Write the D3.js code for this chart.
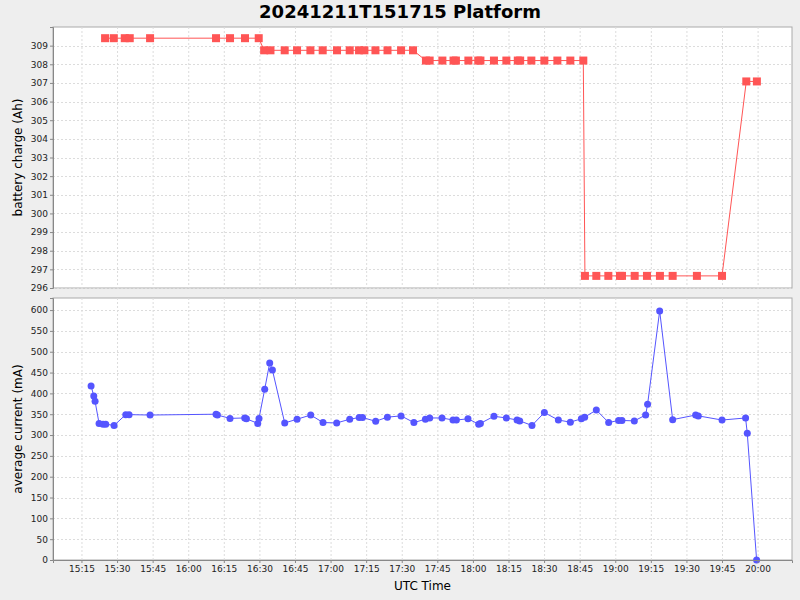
<!DOCTYPE html>
<html>
<head>
<meta charset="utf-8">
<script src="https://cdn.jsdelivr.net/npm/d3@7"></script>
<style>
  body { margin: 0; background: #eeeeee; }
  text { font-family: "DejaVu Sans", sans-serif; fill: #000; }
  .tick text { font-size: 9px; fill: #222; }
  .tick line { stroke: #888; }
  .domain { stroke: #888; }
</style>
</head>
<body>
<div id="chart"></div>
<script>
// battery charge samples (top panel)
var chargeTimes = ["15:24:57","15:28:37","15:33:15","15:35:21","15:43:55","16:11:43","16:17:37","16:23:56","16:29:43",
  "16:32:00","16:34:40","16:40:40","16:45:52","16:51:30","16:56:41","17:02:43","17:08:04","17:12:00","17:14:16",
  "17:18:55","17:24:00","17:29:43","17:34:45",
  "17:40:12","17:41:46","17:47:08","17:51:50","17:52:50","17:58:05","18:02:15","18:03:10","18:08:52","18:14:06",
  "18:18:55","18:19:55","18:24:38","18:30:07","18:35:36","18:41:04","18:46:32",
  "18:47:13","18:52:01","18:57:05","19:02:00","19:02:50","19:08:11","19:13:22","19:18:50","19:24:12","19:34:25","19:45:00",
  "19:55:14","19:59:42"];
var chargeValues = [309.4,309.4,309.4,309.4,309.4,309.4,309.4,309.4,309.4,
  308.75,308.75,308.75,308.75,308.75,308.75,308.75,308.75,308.75,308.75,
  308.75,308.75,308.75,308.75,
  308.2,308.2,308.2,308.2,308.2,308.2,308.2,308.2,308.2,308.2,
  308.2,308.2,308.2,308.2,308.2,308.2,308.2,
  296.65,296.65,296.65,296.65,296.65,296.65,296.65,296.65,296.65,296.65,296.65,
  307.08,307.08];

// average current samples (bottom panel)
var currentTimes = ["15:19:03","15:20:11","15:20:44","15:22:25","15:24:06","15:25:14","15:28:44","15:33:40","15:35:04",
  "15:43:55","16:11:43","16:12:18","16:17:37","16:23:49","16:24:32","16:29:18","16:29:50","16:32:14","16:34:21",
  "16:35:29","16:40:40","16:45:52","16:51:38","16:56:49","17:02:35","17:08:04","17:12:04","17:13:28","17:19:01",
  "17:23:57","17:29:43","17:35:07","17:39:58","17:41:47","17:46:58","17:51:36","17:53:02","17:57:55","18:02:26",
  "18:03:09","18:08:52","18:14:06","18:18:36","18:19:44","18:24:54","18:30:07","18:36:01","18:41:04","18:45:43",
  "18:47:06","18:52:01","18:57:13","19:01:25","19:02:49","19:08:02","19:12:48","19:13:38","19:18:43","19:24:12",
  "19:33:53","19:35:00","19:45:00","19:54:56","19:55:39","19:59:35"];
var currentValues = [418,394,381,328,326,326,323,349,349,
  348,350,348,340,341,339,328,340,410,473,
  456,329,338,348,330,329,338,342,342,333,
  343,346,330,338,341,341,336,336,339,326,
  328,345,341,336,334,323,354,336,331,339,
  343,360,330,335,335,334,348,374,598,337,
  348,346,336,341,304,0];

var timeDomain = ["15:03:00","20:14:30"];
var chargeTicks = [296,297,298,299,300,301,302,303,304,305,306,307,308,309];
var currentTicks = [0,50,100,150,200,250,300,350,400,450,500,550,600];

var svgWidth = 800;
var svgHeight = 600;
var margin = {left: 53, right: 8};
var width = svgWidth - margin.left - margin.right;
var top1 = 27, h1 = 261;
var top2 = 298, h2 = 262;

var parseTime = d3.utcParse("%H:%M:%S");

var svg = d3.select("#chart")
  .append("svg")
  .attr("width", svgWidth)
  .attr("height", svgHeight);

svg.append("rect").attr("width", svgWidth).attr("height", svgHeight).attr("fill", "#eeeeee");

// title
svg.append("text")
  .attr("x", 400)
  .attr("y", 18)
  .attr("text-anchor", "middle")
  .style("font-size", "18px")
  .style("font-weight", "bold")
  .text("20241211T151715 Platform");

var xScale = d3.scaleUtc()
  .domain(timeDomain.map(parseTime))
  .range([0, width]);
var xTicks = xScale.ticks(d3.utcMinute.every(15));

function drawPanel(top, h, yScale, yTicks, times, values, color, marker, label) {
  var g = svg.append("g").attr("transform", `translate(${margin.left}, ${top})`);
  g.append("rect")
    .attr("width", width)
    .attr("height", h)
    .attr("fill", "#fff")
    .attr("stroke", "#aaa");

  // grid
  g.selectAll(".vgrid").data(xTicks).enter().append("line")
    .attr("x1", d => xScale(d) + 0.5).attr("x2", d => xScale(d) + 0.5)
    .attr("y1", 0).attr("y2", h)
    .attr("stroke", "#dcdcdc").attr("stroke-dasharray", "2,2");
  g.selectAll(".hgrid").data(yTicks).enter().append("line")
    .attr("x1", 0).attr("x2", width)
    .attr("y1", d => Math.round(yScale(d)) + 0.5).attr("y2", d => Math.round(yScale(d)) + 0.5)
    .attr("stroke", "#dcdcdc").attr("stroke-dasharray", "2,2");

  var leftAxis = d3.axisLeft(yScale).tickValues(yTicks).tickSize(3).tickPadding(2);
  g.append("g").call(leftAxis);

  var pts = times.map(function(t, i) { return {t: parseTime(t), v: values[i]}; });
  var line = d3.line().x(d => xScale(d.t)).y(d => yScale(d.v));
  g.append("path")
    .datum(pts)
    .attr("d", line)
    .attr("fill", "none")
    .attr("stroke", color)
    .attr("stroke-width", 1);

  if (marker == "square") {
    g.selectAll(".pt").data(pts).enter().append("rect")
      .attr("x", d => xScale(d.t) - 4)
      .attr("y", d => yScale(d.v) - 4)
      .attr("width", 8).attr("height", 8)
      .attr("fill", color);
  } else {
    g.selectAll(".pt").data(pts).enter().append("circle")
      .attr("cx", d => xScale(d.t))
      .attr("cy", d => yScale(d.v))
      .attr("r", 3.5)
      .attr("fill", color);
  }

  svg.append("text")
    .attr("transform", `translate(22, ${top + h / 2}) rotate(-90)`)
    .attr("text-anchor", "middle")
    .style("font-size", "12px")
    .text(label);
  return g;
}

var yCharge = d3.scaleLinear().domain([296, 310]).range([h1, 0]);
var yCurrent = d3.scaleLinear().domain([0, 629]).range([h2, 0]);

drawPanel(top1, h1, yCharge, chargeTicks, chargeTimes, chargeValues, "#ff5555", "square", "battery charge (Ah)");
var bottom = drawPanel(top2, h2, yCurrent, currentTicks, currentTimes, currentValues, "#5555ff", "circle", "average current (mA)");

var bottomAxis = d3.axisBottom(xScale)
  .tickValues(xTicks)
  .tickFormat(d3.utcFormat("%H:%M"))
  .tickSize(3)
  .tickPadding(3);
bottom.append("g")
  .attr("transform", `translate(0, ${h2})`)
  .call(bottomAxis);

svg.append("text")
  .attr("x", margin.left + width / 2)
  .attr("y", 590)
  .attr("text-anchor", "middle")
  .style("font-size", "12px")
  .text("UTC Time");
</script>
</body>
</html>
